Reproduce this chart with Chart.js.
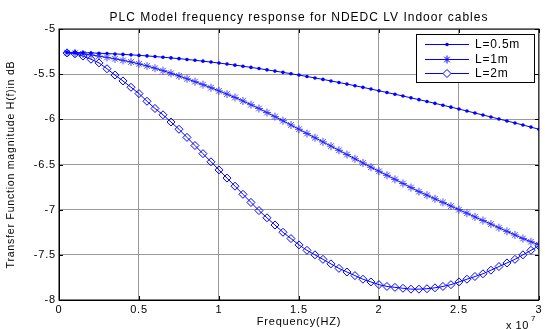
<!DOCTYPE html>
<html>
<head>
<meta charset="utf-8">
<script src="https://cdn.jsdelivr.net/npm/chart.js@4/dist/chart.umd.min.js"></script>
<style>
  html, body { margin: 0; padding: 0; background: #fff; }
  #wrap { width: 545px; height: 329px; }
</style>
</head>
<body>
<div id="wrap"><canvas id="plc"></canvas></div>
<script>
// Frequency in units of 1e7 Hz
const freq = [
  0.05, 0.10, 0.15, 0.20, 0.25, 0.30, 0.35, 0.40, 0.45, 0.50,
  0.55, 0.60, 0.65, 0.70, 0.75, 0.80, 0.85, 0.90, 0.95, 1.00,
  1.05, 1.10, 1.15, 1.20, 1.25, 1.30, 1.35, 1.40, 1.45, 1.50,
  1.55, 1.60, 1.65, 1.70, 1.75, 1.80, 1.85, 1.90, 1.95, 2.00,
  2.05, 2.10, 2.15, 2.20, 2.25, 2.30, 2.35, 2.40, 2.45, 2.50,
  2.55, 2.60, 2.65, 2.70, 2.75, 2.80, 2.85, 2.90, 2.95, 3.00
];

// H(f) in dB, L = 0.5 m
const l05 = [
  -5.258, -5.260, -5.262, -5.265, -5.268, -5.272, -5.276, -5.281, -5.286, -5.292,
  -5.298, -5.305, -5.312, -5.320, -5.328, -5.337, -5.346, -5.356, -5.366, -5.377,
  -5.388, -5.400, -5.412, -5.425, -5.438, -5.452, -5.466, -5.480, -5.495, -5.510,
  -5.526, -5.542, -5.558, -5.575, -5.592, -5.610, -5.628, -5.646, -5.665, -5.684,
  -5.703, -5.722, -5.742, -5.762, -5.782, -5.802, -5.823, -5.844, -5.865, -5.886,
  -5.908, -5.930, -5.952, -5.974, -5.996, -6.018, -6.040, -6.063, -6.086, -6.110
];

// L = 1 m
const l1 = [
  -5.262, -5.268, -5.276, -5.287, -5.300, -5.315, -5.330, -5.347, -5.365, -5.386,
  -5.409, -5.434, -5.461, -5.490, -5.520, -5.551, -5.583, -5.616, -5.650, -5.685,
  -5.721, -5.758, -5.797, -5.838, -5.880, -5.925, -5.970, -6.016, -6.063, -6.110,
  -6.157, -6.204, -6.250, -6.297, -6.343, -6.390, -6.437, -6.483, -6.530, -6.575,
  -6.620, -6.665, -6.710, -6.755, -6.800, -6.840, -6.880, -6.920, -6.960, -7.000,
  -7.040, -7.080, -7.120, -7.160, -7.200, -7.240, -7.280, -7.320, -7.355, -7.390
];

// L = 2 m
const l2 = [
  -5.265, -5.275, -5.300, -5.335, -5.375, -5.440, -5.510, -5.575, -5.645, -5.715,
  -5.800, -5.880, -5.950, -6.030, -6.110, -6.200, -6.290, -6.380, -6.470, -6.560,
  -6.650, -6.740, -6.830, -6.920, -7.010, -7.090, -7.170, -7.250, -7.320, -7.390,
  -7.450, -7.500, -7.550, -7.600, -7.650, -7.690, -7.730, -7.770, -7.800, -7.830,
  -7.850, -7.860, -7.870, -7.880, -7.880, -7.875, -7.865, -7.850, -7.830, -7.800,
  -7.770, -7.740, -7.710, -7.670, -7.630, -7.590, -7.550, -7.500, -7.450, -7.400
];

const seriesNames = ['L=0.5m', 'L=1m', 'L=2m'];
const xTicks = [0, 0.5, 1, 1.5, 2, 2.5, 3];
const yTicks = [-5, -5.5, -6, -6.5, -7, -7.5, -8];

const FONT = '"Liberation Sans", Arial, sans-serif';
const BLUE = '#0000ff';

const pts = (ys) => freq.map((f, i) => ({ x: f, y: ys[i] }));

// small marker drawing for the MATLAB-like legend
function marker(ctx, style, x, y) {
  ctx.beginPath();
  if (style === 'circle') {
    ctx.arc(x, y, 1.8, 0, Math.PI * 2);
    ctx.fill();
  } else if (style === 'star') {
    const r = 4;
    ctx.moveTo(x - r, y); ctx.lineTo(x + r, y);
    ctx.moveTo(x, y - r); ctx.lineTo(x, y + r);
    ctx.moveTo(x - r * 0.7, y - r * 0.7); ctx.lineTo(x + r * 0.7, y + r * 0.7);
    ctx.moveTo(x - r * 0.7, y + r * 0.7); ctx.lineTo(x + r * 0.7, y - r * 0.7);
    ctx.stroke();
  } else {
    const r = 4;
    ctx.moveTo(x, y - r); ctx.lineTo(x + r, y); ctx.lineTo(x, y + r); ctx.lineTo(x - r, y);
    ctx.closePath();
    ctx.fillStyle = '#fff';
    ctx.fill();
    ctx.stroke();
  }
}

const matlabLook = {
  id: 'matlabLook',
  beforeDraw(chart) {
    chart.ctx.letterSpacing = '0.8px';
  },
  afterDraw(chart) {
    const { ctx, chartArea: a, scales } = chart;
    ctx.save();

    // axes box
    ctx.strokeStyle = '#000';
    ctx.lineWidth = 1;
    ctx.strokeRect(a.left, a.top, a.right - a.left, a.bottom - a.top);

    // inward ticks
    ctx.beginPath();
    xTicks.forEach(v => {
      const px = Math.round(scales.x.getPixelForValue(v)) + 0.5;
      ctx.moveTo(px, a.bottom); ctx.lineTo(px, a.bottom - 4);
      ctx.moveTo(px, a.top); ctx.lineTo(px, a.top + 4);
    });
    yTicks.forEach(v => {
      const py = Math.round(scales.y.getPixelForValue(v)) + 0.5;
      ctx.moveTo(a.left, py); ctx.lineTo(a.left + 4, py);
      ctx.moveTo(a.right, py); ctx.lineTo(a.right - 4, py);
    });
    ctx.stroke();

    // title
    ctx.fillStyle = '#000';
    ctx.letterSpacing = '1px';
    ctx.font = '12px ' + FONT;
    ctx.textAlign = 'center';
    ctx.textBaseline = 'middle';
    ctx.fillText('PLC Model frequency response for NDEDC LV Indoor cables', (a.left + a.right) / 2, 18);

    // x10^7 exponent
    ctx.letterSpacing = '0.5px';
    ctx.textAlign = 'left';
    ctx.font = '11px ' + FONT;
    ctx.fillText('x 10', 506, 326);
    ctx.font = '8px ' + FONT;
    ctx.fillText('7', 531, 319);

    // legend
    const lx = 416, ly = 34, lw = 118, lh = 48;
    ctx.fillStyle = '#fff';
    ctx.fillRect(lx, ly, lw, lh);
    ctx.strokeStyle = '#000';
    ctx.strokeRect(lx + 0.5, ly + 0.5, lw, lh);
    const styles = ['circle', 'star', 'rectRot'];
    const rows = [44, 59, 73];
    ctx.font = '12px ' + FONT;
    ctx.letterSpacing = '0.8px';
    seriesNames.forEach((name, i) => {
      const y = rows[i] + 0.5;
      ctx.strokeStyle = BLUE;
      ctx.fillStyle = BLUE;
      ctx.lineWidth = 1;
      ctx.beginPath();
      ctx.moveTo(425, y); ctx.lineTo(469, y);
      ctx.stroke();
      marker(ctx, styles[i], 447, y);
      ctx.fillStyle = '#000';
      ctx.textBaseline = 'middle';
      ctx.fillText(name, 475, y);
    });
    ctx.restore();
  }
};

new Chart(document.getElementById('plc'), {
  type: 'line',
  data: {
    datasets: [
      {
        label: seriesNames[0], data: pts(l05),
        borderColor: BLUE, borderWidth: 1,
        pointStyle: 'circle', pointRadius: 1.8,
        pointBackgroundColor: BLUE, pointBorderColor: BLUE, pointBorderWidth: 0
      },
      {
        label: seriesNames[1], data: pts(l1),
        borderColor: BLUE, borderWidth: 1,
        pointStyle: 'star', pointRadius: 4,
        pointBackgroundColor: 'rgba(0,0,0,0)', pointBorderColor: 'rgba(40,40,255,0.85)', pointBorderWidth: 1
      },
      {
        label: seriesNames[2], data: pts(l2),
        borderColor: BLUE, borderWidth: 1,
        pointStyle: 'rectRot', pointRadius: 4,
        pointBackgroundColor: 'rgba(0,0,0,0)', pointBorderColor: BLUE, pointBorderWidth: 1
      }
    ]
  },
  options: {
    responsive: true,
    maintainAspectRatio: false,
    animation: false,
    devicePixelRatio: 1,
    layout: { padding: { top: 29, right: 6, left: 0, bottom: 0 } },
    plugins: {
      legend: { display: false },
      title: { display: false },
      tooltip: { enabled: false }
    },
    elements: { line: { tension: 0 } },
    scales: {
      x: {
        type: 'linear', min: 0, max: 3,
        afterFit: (s) => { s.height = 29; },
        afterBuildTicks: (s) => { s.ticks = xTicks.map(v => ({ value: v })); },
        ticks: {
          color: '#000', padding: 3, maxRotation: 0, autoSkip: false,
          font: { family: FONT, size: 11 },
          callback: (v) => String(v)
        },
        grid: { color: '#9a9a9a', lineWidth: 1, drawTicks: false },
        border: { display: true, color: '#000', width: 1 },
        title: {
          display: true, text: 'Frequency(HZ)', color: '#000',
          font: { family: FONT, size: 11 }, padding: { top: 0, bottom: 0 }
        }
      },
      y: {
        type: 'linear', min: -8, max: -5,
        afterFit: (s) => { s.width = 59; },
        afterBuildTicks: (s) => { s.ticks = yTicks.map(v => ({ value: v })); },
        ticks: {
          color: '#000', padding: 3, autoSkip: false,
          font: { family: FONT, size: 11 },
          callback: (v) => String(v)
        },
        grid: { color: '#9a9a9a', lineWidth: 1, drawTicks: false },
        border: { display: true, color: '#000', width: 1 },
        title: {
          display: true, text: 'Transfer Function magnitude H(f)in dB', color: '#000',
          font: { family: FONT, size: 10.5 }, padding: { top: 5, bottom: 0 }
        }
      }
    }
  },
  plugins: [matlabLook]
});
</script>
</body>
</html>
